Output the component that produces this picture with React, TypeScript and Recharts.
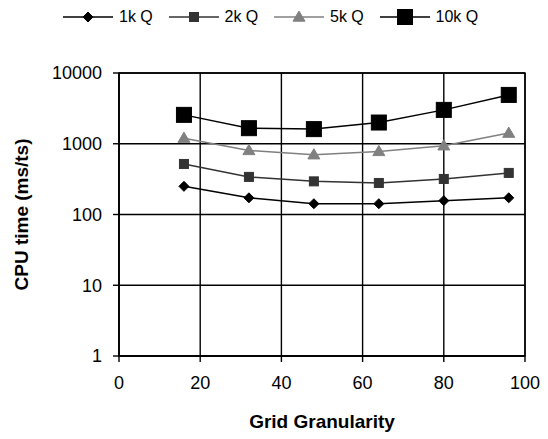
import React from 'react';
import { LineChart, Line, XAxis, YAxis, CartesianGrid, Legend, ReferenceArea } from 'recharts';

const granularity = [16, 32, 48, 64, 80, 96];
const q1k = [250, 172, 142, 142, 157, 172];
const q2k = [518, 340, 294, 279, 318, 387];
const q5k = [1200, 805, 700, 780, 937, 1415];
const q10k = [2560, 1660, 1610, 1995, 3010, 4900];
const xTicks = [0, 20, 40, 60, 80, 100];
const yTicks = [1, 10, 100, 1000, 10000];

const data = granularity.map((g, i) => ({ g, q1k: q1k[i], q2k: q2k[i], q5k: q5k[i], q10k: q10k[i] }));

const FONT = 'Liberation Sans, Arial, sans-serif';

type Shape = 'diamond' | 'smallSquare' | 'triangle' | 'bigSquare';

const Marker = ({ cx, cy, shape, color }: { cx: number; cy: number; shape: Shape; color: string }) => {
  if (cx == null || cy == null || isNaN(cx) || isNaN(cy)) return null;
  if (shape === 'diamond') {
    const r = 5;
    return <polygon points={`${cx},${cy - r} ${cx + r},${cy} ${cx},${cy + r} ${cx - r},${cy}`} fill={color} stroke={color} />;
  }
  if (shape === 'smallSquare') {
    const s = 9;
    return <rect x={cx - s / 2} y={cy - s / 2} width={s} height={s} fill={color} stroke={color} />;
  }
  if (shape === 'triangle') {
    const r = 6;
    return <polygon points={`${cx},${cy - r} ${cx + r},${cy + r * 0.7} ${cx - r},${cy + r * 0.7}`} fill={color} stroke={color} />;
  }
  const s = 15;
  return <rect x={cx - s / 2} y={cy - s / 2} width={s} height={s} fill={color} stroke={color} />;
};

const series: { key: string; name: string; color: string; shape: Shape }[] = [
  { key: 'q1k', name: '1k Q', color: '#000000', shape: 'diamond' },
  { key: 'q2k', name: '2k Q', color: '#333333', shape: 'smallSquare' },
  { key: 'q5k', name: '5k Q', color: '#808080', shape: 'triangle' },
  { key: 'q10k', name: '10k Q', color: '#000000', shape: 'bigSquare' },
];

const LegendContent = () => (
  <div style={{ height: 73, width: 548, position: 'relative', fontFamily: FONT, fontSize: 16 }}>
    <div style={{ position: 'absolute', top: 7, left: 63, display: 'flex' }}>
      {series.map((s) => (
        <div key={s.key} style={{ display: 'flex', alignItems: 'center', width: 105.5 }}>
          <svg width={50} height={20} style={{ display: 'block' }}>
            <line x1={0} y1={10} x2={50} y2={10} stroke={s.color} strokeWidth={1.5} />
            <Marker cx={25} cy={10} shape={s.shape} color={s.color} />
          </svg>
          <span style={{ marginLeft: 6, color: '#000', lineHeight: '20px' }}>{s.name}</span>
        </div>
      ))}
    </div>
  </div>
);

export default function App() {
  return (
    <div style={{ position: 'absolute', left: 0, top: 0, background: '#fff' }}>
      <LineChart width={548} height={439} data={data} margin={{ top: 0, right: 23, bottom: 0, left: 0 }}>
        <Legend verticalAlign="top" align="left" content={<LegendContent />} />
        <CartesianGrid stroke="#000" strokeWidth={1.4} />
        <ReferenceArea x1={0} x2={100} y1={1} y2={10000} fill="none" stroke="#000" strokeWidth={1.4} fillOpacity={0} />
        <XAxis
          dataKey="g"
          type="number"
          domain={[0, 100]}
          ticks={xTicks}
          height={83}
          stroke="#000"
          strokeWidth={1.4}
          tickSize={6}
          tick={{ fill: '#000', fontSize: 18, fontFamily: FONT, dy: 12 }}
          label={{ value: 'Grid Granularity', position: 'insideBottom', offset: 11, fill: '#000', fontSize: 19, fontWeight: 'bold', fontFamily: FONT }}
        />
        <YAxis
          scale="log"
          domain={[1, 10000]}
          ticks={yTicks}
          width={119}
          allowDataOverflow
          stroke="#000"
          strokeWidth={1.4}
          tickSize={6}
          tick={{ fill: '#000', fontSize: 18, fontFamily: FONT, dx: -9 }}
          label={{ value: 'CPU time (ms/ts)', angle: -90, position: 'insideLeft', offset: 21, style: { textAnchor: 'middle' }, fill: '#000', fontSize: 19, fontWeight: 'bold', fontFamily: FONT }}
        />
        {series.map((s) => (
          <Line
            key={s.key}
            dataKey={s.key}
            name={s.name}
            stroke={s.color}
            strokeWidth={1.5}
            isAnimationActive={false}
            dot={(p: any) => <Marker key={`${s.key}-${p.index}`} cx={p.cx} cy={p.cy} shape={s.shape} color={s.color} />}
            activeDot={false}
          />
        ))}
      </LineChart>
    </div>
  );
}
